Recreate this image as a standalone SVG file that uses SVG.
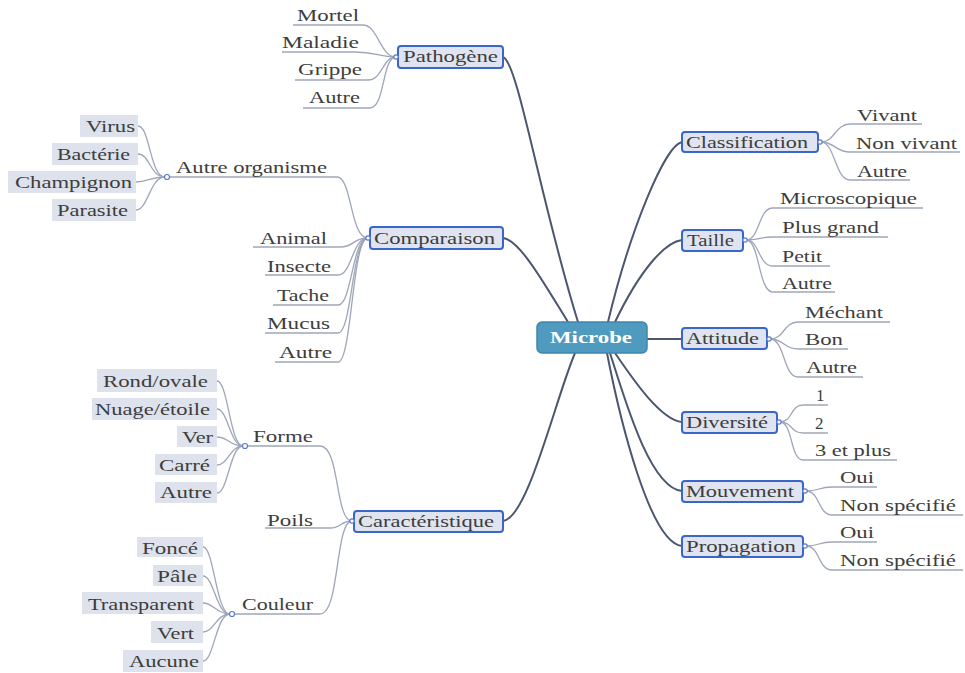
<svg xmlns="http://www.w3.org/2000/svg" width="965" height="673" viewBox="0 0 965 673">
<style>
text{font-size:17px;fill:#3d3d3d}
.topic rect{fill:#dfe4f0;stroke:#3b66c9;stroke-width:2}
.leafbox{fill:#dde2ec}
.main{fill:none;stroke:#4b5670;stroke-width:2}
.sub{fill:none;stroke:#9ea6b8;stroke-width:1.3}
.dot{fill:#fff;stroke:#5a7ad0;stroke-width:1.2}
.center rect{fill:#4f9bc0;stroke:#3f86aa;stroke-width:1.5}
.center text{fill:#fff;font-weight:bold}
</style>
<rect width="965" height="673" fill="#fff"/>
<g font-family="Liberation Serif, DejaVu Serif, Times New Roman, serif">
<g id="connectors">
  <path class="main" d="M503,57 C518,62 540,200 578,322"/>
  <path class="main" d="M503,238 C520,240 545,285 568,322"/>
  <path class="main" d="M503,521 C528,518 555,400 575,353"/>
  <path class="main" d="M682,142 C665,145 630,230 608,322"/>
  <path class="main" d="M682,240 C665,242 640,270 615,322"/>
  <path class="main" d="M647,339 L682,339"/>
  <path class="main" d="M615,353 C630,375 660,420 682,422"/>
  <path class="main" d="M610,353 C625,400 650,488 682,491"/>
  <path class="main" d="M607,353 C620,420 650,543 682,546"/>
  <path class="sub" d="M396,57 C380,57 378,25 363,25 L293,25"/>
  <path class="sub" d="M396,57 C380,57 375,52 355,52 L282,52"/>
  <path class="sub" d="M396,57 C382,57 383,80 368,80 L295,80"/>
  <path class="sub" d="M396,57 C382,57 385,108 370,108 L303,108"/>
  <path class="sub" d="M368,238 C352,238 355,247 340,247 L253,247"/>
  <path class="sub" d="M368,238 C352,238 352,275 338,275 L265,275"/>
  <path class="sub" d="M368,238 C352,238 352,305 338,305 L273,305"/>
  <path class="sub" d="M368,238 C352,238 352,333 338,333 L265,333"/>
  <path class="sub" d="M368,238 C352,238 352,362 338,362 L275,362"/>
  <path class="sub" d="M368,238 C350,238 352,177 337,177 L167,177"/>
  <path class="sub" d="M165,177 C150,177 150,126 138,126"/>
  <path class="sub" d="M165,177 C150,177 150,154 138,154"/>
  <path class="sub" d="M165,177 C150,177 148,182 136,182"/>
  <path class="sub" d="M165,177 C150,177 148,210 136,210"/>
  <path class="sub" d="M352,521 C335,521 340,446 320,446 L245,446"/>
  <path class="sub" d="M352,521 C340,521 342,528 330,528 L265,528"/>
  <path class="sub" d="M352,521 C335,521 340,614 320,614 L232,614"/>
  <path class="sub" d="M243,446 C230,446 228,381 217,381"/>
  <path class="sub" d="M243,446 C230,446 228,409 217,409"/>
  <path class="sub" d="M243,446 C230,446 228,437 217,437"/>
  <path class="sub" d="M243,446 C230,446 228,465 217,465"/>
  <path class="sub" d="M243,446 C230,446 228,493 217,493"/>
  <path class="sub" d="M230,614 C216,614 214,547 203,547"/>
  <path class="sub" d="M230,614 C216,614 214,576 203,576"/>
  <path class="sub" d="M230,614 C216,614 214,603 203,603"/>
  <path class="sub" d="M230,614 C216,614 214,632 203,632"/>
  <path class="sub" d="M230,614 C216,614 214,661 203,661"/>
  <path class="sub" d="M821,142 C835,142 835,124 850,124 L922,124"/>
  <path class="sub" d="M821,142 C835,142 835,152 850,152 L960,152"/>
  <path class="sub" d="M821,142 C835,142 835,180 850,180 L910,180"/>
  <path class="sub" d="M746,240 C760,240 758,208 773,208 L923,208"/>
  <path class="sub" d="M746,240 C760,240 758,237 773,237 L888,237"/>
  <path class="sub" d="M746,240 C760,240 758,266 773,266 L830,266"/>
  <path class="sub" d="M746,240 C760,240 758,292 773,292 L835,292"/>
  <path class="sub" d="M770,339 C785,339 783,322 798,322 L890,322"/>
  <path class="sub" d="M770,339 C785,339 783,349 798,349 L848,349"/>
  <path class="sub" d="M770,339 C785,339 783,377 798,377 L863,377"/>
  <path class="sub" d="M780,422 C793,422 790,405 803,405 L828,405"/>
  <path class="sub" d="M780,422 C793,422 790,433 803,433 L828,433"/>
  <path class="sub" d="M780,422 C793,422 790,460 803,460 L897,460"/>
  <path class="sub" d="M806,491 C820,491 818,487 832,487 L877,487"/>
  <path class="sub" d="M806,491 C820,491 818,515 832,515 L963,515"/>
  <path class="sub" d="M806,546 C820,546 818,542 832,542 L877,542"/>
  <path class="sub" d="M806,546 C820,546 818,570 832,570 L963,570"/>
  <circle class="dot" cx="167" cy="177" r="2.5"/>
  <circle class="dot" cx="245" cy="446" r="2.5"/>
  <circle class="dot" cx="232" cy="614" r="2.5"/>
</g>
<g id="microbe" class="center">
  <rect x="537" y="322" width="110" height="31" rx="5"/>
  <text x="550" y="343" textLength="82" lengthAdjust="spacingAndGlyphs">Microbe</text>
</g>
<g id="pathogene" class="topic">
  <rect x="398" y="46" width="105" height="22" rx="3"/>
  <text x="403" y="62" textLength="95" lengthAdjust="spacingAndGlyphs">Pathogène</text>
  <circle class="dot" cx="396" cy="57" r="2.2"/>
</g>
<g id="comparaison" class="topic">
  <rect x="370" y="227" width="133" height="22" rx="3"/>
  <text x="374" y="244" textLength="121" lengthAdjust="spacingAndGlyphs">Comparaison</text>
  <circle class="dot" cx="368" cy="238" r="2.2"/>
</g>
<g id="caracteristique" class="topic">
  <rect x="354" y="511" width="149" height="21" rx="3"/>
  <text x="358" y="527" textLength="136" lengthAdjust="spacingAndGlyphs">Caractéristique</text>
  <circle class="dot" cx="352" cy="521" r="2.2"/>
</g>
<g id="classification" class="topic">
  <rect x="682" y="132" width="136" height="20" rx="3"/>
  <text x="686" y="148" textLength="122" lengthAdjust="spacingAndGlyphs">Classification</text>
  <circle class="dot" cx="820" cy="142" r="2.2"/>
</g>
<g id="taille" class="topic">
  <rect x="682" y="230" width="61" height="21" rx="3"/>
  <text x="687" y="246" textLength="47" lengthAdjust="spacingAndGlyphs">Taille</text>
  <circle class="dot" cx="745" cy="240" r="2.2"/>
</g>
<g id="attitude" class="topic">
  <rect x="682" y="328" width="85" height="21" rx="3"/>
  <text x="686" y="344" textLength="73" lengthAdjust="spacingAndGlyphs">Attitude</text>
  <circle class="dot" cx="769" cy="339" r="2.2"/>
</g>
<g id="diversite" class="topic">
  <rect x="682" y="412" width="95" height="21" rx="3"/>
  <text x="686" y="428" textLength="82" lengthAdjust="spacingAndGlyphs">Diversité</text>
  <circle class="dot" cx="779" cy="422" r="2.2"/>
</g>
<g id="mouvement" class="topic">
  <rect x="682" y="481" width="121" height="21" rx="3"/>
  <text x="686" y="497" textLength="108" lengthAdjust="spacingAndGlyphs">Mouvement</text>
  <circle class="dot" cx="805" cy="491" r="2.2"/>
</g>
<g id="propagation" class="topic">
  <rect x="682" y="536" width="121" height="21" rx="3"/>
  <text x="686" y="552" textLength="110" lengthAdjust="spacingAndGlyphs">Propagation</text>
  <circle class="dot" cx="805" cy="546" r="2.2"/>
</g>
<g id="mortel"><text x="297" y="21" textLength="62" lengthAdjust="spacingAndGlyphs">Mortel</text></g>
<g id="maladie"><text x="282" y="48" textLength="77" lengthAdjust="spacingAndGlyphs">Maladie</text></g>
<g id="grippe"><text x="298" y="75" textLength="64" lengthAdjust="spacingAndGlyphs">Grippe</text></g>
<g id="autre-p"><text x="309" y="103" textLength="51" lengthAdjust="spacingAndGlyphs">Autre</text></g>
<g id="autre-organisme"><text x="176" y="173" textLength="151" lengthAdjust="spacingAndGlyphs">Autre organisme</text></g>
<g id="animal"><text x="260" y="244" textLength="67" lengthAdjust="spacingAndGlyphs">Animal</text></g>
<g id="insecte"><text x="267" y="272" textLength="64" lengthAdjust="spacingAndGlyphs">Insecte</text></g>
<g id="tache"><text x="277" y="301" textLength="52" lengthAdjust="spacingAndGlyphs">Tache</text></g>
<g id="mucus"><text x="267" y="329" textLength="63" lengthAdjust="spacingAndGlyphs">Mucus</text></g>
<g id="autre-c"><text x="279" y="358" textLength="53" lengthAdjust="spacingAndGlyphs">Autre</text></g>
<g id="virus"><rect class="leafbox" x="80" y="115" width="58" height="22"/><text x="86" y="132" textLength="49" lengthAdjust="spacingAndGlyphs">Virus</text></g>
<g id="bacterie"><rect class="leafbox" x="52" y="143" width="86" height="22"/><text x="57" y="160" textLength="73" lengthAdjust="spacingAndGlyphs">Bactérie</text></g>
<g id="champignon"><rect class="leafbox" x="8" y="171" width="128" height="22"/><text x="15" y="188" textLength="117" lengthAdjust="spacingAndGlyphs">Champignon</text></g>
<g id="parasite"><rect class="leafbox" x="52" y="199" width="84" height="22"/><text x="57" y="216" textLength="71" lengthAdjust="spacingAndGlyphs">Parasite</text></g>
<g id="forme"><text x="253" y="442" textLength="60" lengthAdjust="spacingAndGlyphs">Forme</text></g>
<g id="poils"><text x="267" y="526" textLength="46" lengthAdjust="spacingAndGlyphs">Poils</text></g>
<g id="couleur"><text x="242" y="610" textLength="71" lengthAdjust="spacingAndGlyphs">Couleur</text></g>
<g id="rond"><rect class="leafbox" x="97" y="369" width="120" height="23"/><text x="103" y="387" textLength="105" lengthAdjust="spacingAndGlyphs">Rond/ovale</text></g>
<g id="nuage"><rect class="leafbox" x="92" y="398" width="125" height="22"/><text x="95" y="415" textLength="115" lengthAdjust="spacingAndGlyphs">Nuage/étoile</text></g>
<g id="ver"><rect class="leafbox" x="177" y="426" width="40" height="21"/><text x="182" y="443" textLength="31" lengthAdjust="spacingAndGlyphs">Ver</text></g>
<g id="carre"><rect class="leafbox" x="155" y="454" width="62" height="21"/><text x="159" y="471" textLength="51" lengthAdjust="spacingAndGlyphs">Carré</text></g>
<g id="autre-f"><rect class="leafbox" x="155" y="482" width="62" height="21"/><text x="160" y="498" textLength="52" lengthAdjust="spacingAndGlyphs">Autre</text></g>
<g id="fonce"><rect class="leafbox" x="137" y="537" width="66" height="20"/><text x="142" y="554" textLength="56" lengthAdjust="spacingAndGlyphs">Foncé</text></g>
<g id="pale"><rect class="leafbox" x="153" y="565" width="50" height="21"/><text x="157" y="582" textLength="40" lengthAdjust="spacingAndGlyphs">Pâle</text></g>
<g id="transparent"><rect class="leafbox" x="82" y="592" width="121" height="22"/><text x="88" y="610" textLength="106" lengthAdjust="spacingAndGlyphs">Transparent</text></g>
<g id="vert"><rect class="leafbox" x="151" y="621" width="52" height="22"/><text x="157" y="639" textLength="37" lengthAdjust="spacingAndGlyphs">Vert</text></g>
<g id="aucune"><rect class="leafbox" x="123" y="650" width="80" height="22"/><text x="129" y="667" textLength="70" lengthAdjust="spacingAndGlyphs">Aucune</text></g>
<g id="vivant"><text x="857" y="121" textLength="60" lengthAdjust="spacingAndGlyphs">Vivant</text></g>
<g id="non-vivant"><text x="856" y="149" textLength="101" lengthAdjust="spacingAndGlyphs">Non vivant</text></g>
<g id="autre-cl"><text x="857" y="177" textLength="50" lengthAdjust="spacingAndGlyphs">Autre</text></g>
<g id="microscopique"><text x="780" y="204" textLength="137" lengthAdjust="spacingAndGlyphs">Microscopique</text></g>
<g id="plus-grand"><text x="782" y="233" textLength="97" lengthAdjust="spacingAndGlyphs">Plus grand</text></g>
<g id="petit"><text x="782" y="262" textLength="40" lengthAdjust="spacingAndGlyphs">Petit</text></g>
<g id="autre-t"><text x="782" y="289" textLength="50" lengthAdjust="spacingAndGlyphs">Autre</text></g>
<g id="mechant"><text x="805" y="318" textLength="78" lengthAdjust="spacingAndGlyphs">Méchant</text></g>
<g id="bon"><text x="805" y="345" textLength="38" lengthAdjust="spacingAndGlyphs">Bon</text></g>
<g id="autre-a"><text x="806" y="373" textLength="51" lengthAdjust="spacingAndGlyphs">Autre</text></g>
<g id="d1"><text x="816" y="401">1</text></g>
<g id="d2"><text x="815" y="429">2</text></g>
<g id="d3"><text x="815" y="456" textLength="76" lengthAdjust="spacingAndGlyphs">3 et plus</text></g>
<g id="oui-m"><text x="840" y="483" textLength="34" lengthAdjust="spacingAndGlyphs">Oui</text></g>
<g id="nonspec-m"><text x="840" y="511" textLength="116" lengthAdjust="spacingAndGlyphs">Non spécifié</text></g>
<g id="oui-p"><text x="840" y="538" textLength="34" lengthAdjust="spacingAndGlyphs">Oui</text></g>
<g id="nonspec-p"><text x="840" y="566" textLength="116" lengthAdjust="spacingAndGlyphs">Non spécifié</text></g>
</g>
</svg>
